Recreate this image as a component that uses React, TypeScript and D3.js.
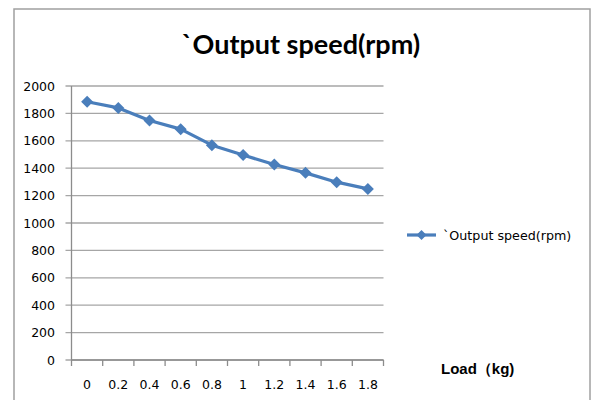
import React from 'react'
import * as d3 from 'd3'

const loads = ['0', '0.2', '0.4', '0.6', '0.8', '1', '1.2', '1.4', '1.6', '1.8']
const speeds = [1885, 1840, 1748, 1685, 1568, 1496, 1427, 1366, 1298, 1249]
const yTicks = [0, 200, 400, 600, 800, 1000, 1200, 1400, 1600, 1800, 2000]

const title = '`Output speed(rpm)'
const seriesName = '`Output speed(rpm)'
const xTitle = 'Load（kg)'

const W = 591
const H = 400
const plot = { left: 71.5, right: 383.5, top: 86, bottom: 360 }
const blue = '#4a7ebb'
const grid = '#a6a6a6'
const labelFont = '"DejaVu Sans", Verdana, sans-serif'

function diamond(cx: number, cy: number, r: number) {
    return `M${cx},${cy - r}L${cx + r},${cy}L${cx},${cy + r}L${cx - r},${cy}Z`
}

export default function App() {
    const x = d3.scaleBand().domain(loads).range([plot.left, plot.right])
    const y = d3.scaleLinear().domain([0, 2000]).range([plot.bottom, plot.top])
    const cx = (d: string) => (x(d) as number) + x.bandwidth() / 2

    const pts: [number, number][] = loads.map((d, i) => [cx(d), y(speeds[i])])
    const path = d3.line()(pts) as string

    const boundaries = loads.map(d => x(d) as number).concat([plot.right])

    return (
        <svg width={W} height={H} style={{ position: 'absolute', left: 0, top: 0, background: 'white' }}>
            {/* outer frame */}
            <rect x={14} y={9} width={576} height={420} fill="white" stroke="#a0a0a0" strokeWidth={1.5} />

            <text x={301} y={54} textAnchor="middle" fontFamily="Lato, sans-serif" fontWeight="bold" fontSize={27} fill="#000">
                {title}
            </text>

            {/* gridlines */}
            {yTicks.map(t => (
                <line key={t} x1={plot.left - 6} x2={plot.right} y1={y(t)} y2={y(t)} stroke={grid} strokeWidth={1.3} />
            ))}
            {/* axes */}
            <line x1={plot.left} x2={plot.left} y1={plot.top} y2={plot.bottom} stroke="#8c8c8c" strokeWidth={1.3} />
            <line x1={plot.left} x2={plot.right} y1={plot.bottom} y2={plot.bottom} stroke="#8c8c8c" strokeWidth={1.3} />
            {boundaries.map((b, i) => (
                <line key={i} x1={b} x2={b} y1={plot.bottom} y2={plot.bottom + 6} stroke="#8c8c8c" strokeWidth={1.3} />
            ))}

            {yTicks.map(t => (
                <text key={t} x={55} y={y(t) + 4.5} textAnchor="end" fontFamily={labelFont} fontSize={12.5} fill="#000">
                    {t}
                </text>
            ))}
            {loads.map(d => (
                <text key={d} x={cx(d)} y={389} textAnchor="middle" fontFamily={labelFont} fontSize={12.5} fill="#000">
                    {d}
                </text>
            ))}

            {/* series */}
            <path d={path} fill="none" stroke={blue} strokeWidth={3.2} strokeLinejoin="round" />
            {pts.map((p, i) => (
                <path key={i} d={diamond(p[0], p[1], 6)} fill={blue} />
            ))}

            {/* legend */}
            <line x1={407} x2={436} y1={235} y2={235} stroke={blue} strokeWidth={3.2} />
            <path d={diamond(421.5, 235, 5)} fill={blue} />
            <text x={443} y={239.5} fontFamily={labelFont} fontSize={12.7} fill="#000">
                {seriesName}
            </text>

            <text x={441} y={374} fontFamily='"Liberation Sans", Arial, sans-serif' fontWeight="bold" fontSize={15} fill="#000">
                {xTitle}
            </text>
        </svg>
    )
}
